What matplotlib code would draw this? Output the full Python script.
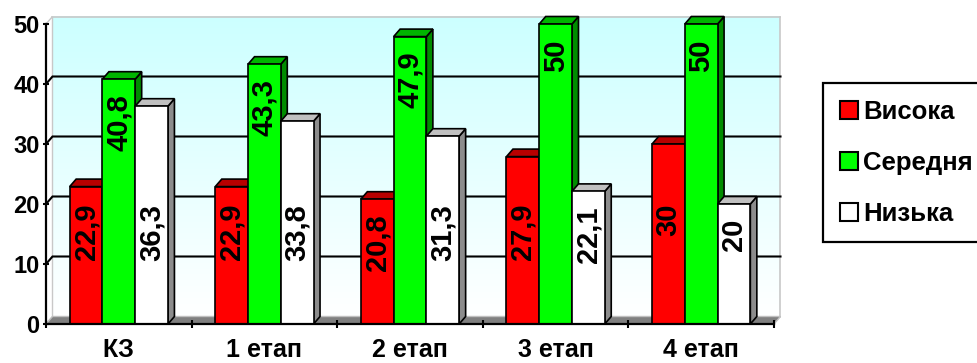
import numpy as np
import matplotlib
matplotlib.use("Agg")
import matplotlib.pyplot as plt
from matplotlib.patches import Polygon, Rectangle, Patch

plt.rcParams['font.family'] = ['Liberation Sans', 'DejaVu Sans']
plt.rcParams['font.weight'] = 'bold'

categories = ["КЗ", "1 етап", "2 етап", "3 етап", "4 етап"]
series_names = ["Висока", "Середня", "Низька"]
high = [22.9, 22.9, 20.8, 27.9, 30]
medium = [40.8, 43.3, 47.9, 50, 50]
low = [36.3, 33.8, 31.3, 22.1, 20]
y_ticks = [0, 10, 20, 30, 40, 50]

# front / top / side shades for each series
faces = [("#ff0000", "#b80000", "#8c0000"),
         ("#00ff00", "#00b400", "#008c00"),
         ("#ffffff", "#c0c0c0", "#8c8c8c")]

W, H = 978, 363
fig = plt.figure(figsize=(W / 100, H / 100), dpi=100)
ax = fig.add_axes([46 / W, 39 / H, 728 / W, 300 / H])
n = len(categories)
ax.set_xlim(0, n)
ax.set_ylim(0, 50)

# depth offset of the pseudo-3D view, in data units
dx = 6.5 / (728 / n)
dy = 7.5 / 6.0

# back wall with a vertical gradient
grad = np.linspace(0, 1, 256).reshape(-1, 1)
c_bot = np.array([1.0, 1.0, 1.0])
c_top = np.array([0.80, 1.0, 1.0])
img = c_bot + (c_top - c_bot) * grad[..., None]
ax.imshow(img, origin="lower", aspect="auto", extent=[dx, n + dx, dy, 50 + dy],
          zorder=0, clip_on=False)
ax.plot([dx, n + dx], [50 + dy, 50 + dy], color="#c8c8c8", lw=1.2, clip_on=False, zorder=1)
ax.plot([n + dx, n + dx], [dy, 50 + dy], color="#c8c8c8", lw=1.2, clip_on=False, zorder=1)

# left side wall
ax.add_patch(Polygon([(0, 0), (dx, dy), (dx, 50 + dy), (0, 50)], closed=True,
                     facecolor="white", edgecolor="#c8c8c8", lw=1.0, zorder=1, clip_on=False))
# floor
ax.add_patch(Polygon([(0, 0), (n, 0), (n + dx, dy), (dx, dy)], closed=True,
                     facecolor="#808080", edgecolor="#c0c0c0", lw=1.0, zorder=1, clip_on=False))

# gridlines on the back wall
for v in y_ticks[1:-1]:
    ax.plot([0, dx, n + dx], [v, v + dy, v + dy], color="black", lw=1.5,
            zorder=1.5, clip_on=False, solid_joinstyle="miter")

bw = 0.225
values = [high, medium, low]
z = 3
for i in range(n):
    for s in range(3):
        v = values[s][i]
        x = i + 0.5 + (s - 1) * bw - bw / 2
        front, top, side = faces[s]
        ax.add_patch(Polygon([(x + bw, 0), (x + bw + dx, dy), (x + bw + dx, v + dy), (x + bw, v)],
                             closed=True, facecolor=side, edgecolor="black", lw=1.2,
                             zorder=z, clip_on=False))
        ax.add_patch(Polygon([(x, v), (x + bw, v), (x + bw + dx, v + dy), (x + dx, v + dy)],
                             closed=True, facecolor=top, edgecolor="black", lw=1.2,
                             zorder=z, clip_on=False))
        ax.add_patch(Rectangle((x, 0), bw, v, facecolor=front, edgecolor="black", lw=1.2,
                               zorder=z + 0.1, clip_on=False))
        label = f"{v:g}".replace(".", ",")
        ty = v - 2.5 if v >= 40 else min(v - 2.5, 20)
        ax.text(x + bw / 2, ty, label, rotation=90, ha="center", va="top",
                fontsize=21, fontweight="bold", color="black", zorder=z + 0.2)
        z += 0.5

# axes
for sp in ["top", "right"]:
    ax.spines[sp].set_visible(False)
ax.spines["left"].set_linewidth(1.6)
ax.spines["bottom"].set_linewidth(1.6)
ax.spines["left"].set_zorder(20)
ax.spines["bottom"].set_zorder(20)
ax.set_yticks(y_ticks)
ax.tick_params(axis="y", which="major", length=5, width=1.5, direction="inout",
               labelsize=17, pad=2)
ax.set_xticks(range(n + 1))
ax.set_xticklabels([])
ax.set_xticks([i + 0.5 for i in range(n)], minor=True)
ax.set_xticklabels(categories, minor=True)
ax.tick_params(axis="x", which="major", length=6, width=1.5, direction="inout")
ax.tick_params(axis="x", which="minor", length=0, labelsize=18, pad=10)
for lab in ax.get_yticklabels() + ax.get_xticklabels(minor=True):
    lab.set_fontweight("bold")

handles = [Patch(facecolor=f[0], edgecolor="black", lw=1.5) for f in faces]
leg = fig.legend(handles, series_names, loc="upper left",
                 bbox_to_anchor=(823 / W, 1 - 83 / H), borderaxespad=0,
                 frameon=True, fancybox=False, framealpha=1,
                 handlelength=0.7, handleheight=0.7, handletextpad=0.2,
                 labelspacing=1.05, borderpad=0.65,
                 prop={"weight": "bold", "size": 18.5})
leg.get_frame().set_edgecolor("black")
leg.get_frame().set_linewidth(1.6)

fig.savefig("out.png", dpi=100)
